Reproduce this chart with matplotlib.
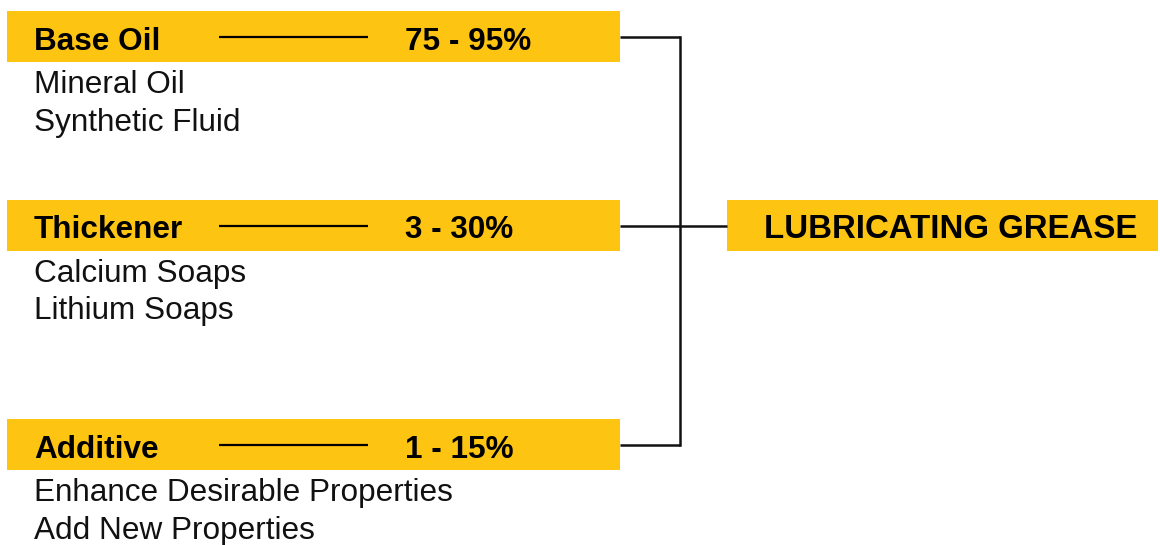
import matplotlib
matplotlib.use("Agg")
import matplotlib.pyplot as plt

# ---- data ----
components = ["Base Oil", "Thickener", "Additive"]
percentages = ["75 - 95%", "3 - 30%", "1 - 15%"]
examples = [
    ["Mineral Oil", "Synthetic Fluid"],
    ["Calcium Soaps", "Lithium Soaps"],
    ["Enhance Desirable Properties", "Add New Properties"],
]
result_label = "LUBRICATING GREASE"

# ---- layout / style ----
YELLOW = "#FEC412"
FONT = ["Liberation Sans", "DejaVu Sans"]
FS = 22.7
bar_tops = [11, 200, 419]
bar_h = 51
bar_left, bar_right = 7, 620
junction_x = 679.5
res_left, res_right = 727, 1158

fig = plt.figure(figsize=(11.6, 5.45), dpi=100)
ax = fig.add_axes([0, 0, 1, 1])
ax.set_xlim(0, 1160)
ax.set_ylim(545, 0)
ax.axis("off")

centers = [t + bar_h / 2 for t in bar_tops]
ax.barh(centers, [bar_right - bar_left] * len(centers), left=bar_left,
        height=bar_h, color=YELLOW, edgecolor="none", zorder=1)

for i, (name, pct, ex) in enumerate(zip(components, percentages, examples)):
    top = bar_tops[i]
    base = top + 38.5
    ax.text(34, base, name, fontsize=FS, fontweight="bold", family=FONT,
            va="baseline", ha="left", color="black", zorder=3)
    ax.plot([219, 368], [centers[i], centers[i]], color="black", lw=1.6,
            solid_capstyle="butt", zorder=3)
    ax.text(405, base, pct, fontsize=FS, fontweight="bold", family=FONT,
            va="baseline", ha="left", color="black", zorder=3)
    for j, line in enumerate(ex):
        ax.text(34, top + bar_h + 31 + j * 37.5, line, fontsize=FS,
                family=FONT, va="baseline", ha="left", color="#111111", zorder=3)
    # connector from bar to junction
    ax.plot([bar_right, junction_x], [centers[i], centers[i]], color="#111111",
            lw=1.8, solid_capstyle="butt", zorder=2)

# vertical connector
ax.plot([junction_x, junction_x], [centers[0], centers[-1]], color="#111111",
        lw=1.8, solid_capstyle="projecting", zorder=2)

# result box
res_c = centers[1]
ax.barh([res_c], [res_right - res_left], left=res_left, height=bar_h,
        color=YELLOW, edgecolor="none", zorder=1)
ax.plot([junction_x, res_left], [res_c, res_c], color="#111111", lw=1.8,
        solid_capstyle="butt", zorder=2)
ax.text(951, bar_tops[1] + 38.5, result_label, fontsize=23.8, fontweight="bold",
        family=FONT, va="baseline", ha="center", color="black", zorder=3)

fig.savefig("out.png", dpi=100, facecolor="white")
